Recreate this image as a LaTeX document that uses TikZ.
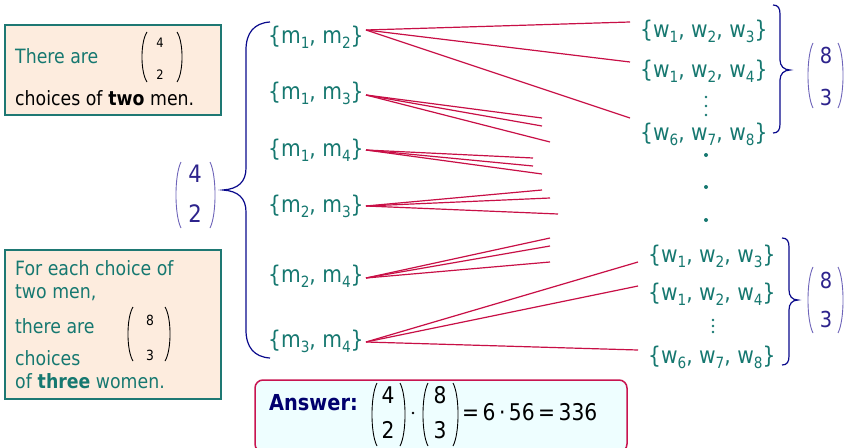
\documentclass[tikz,border=0pt]{standalone}
\usepackage{fontspec}
\setmainfont[FakeStretch=0.88]{DejaVu Sans}
\definecolor{tealc}{RGB}{22,120,112}
\definecolor{navyc}{RGB}{10,10,140}
\definecolor{binc}{RGB}{45,35,140}
\definecolor{parc}{RGB}{110,100,185}
\definecolor{redc}{RGB}{200,15,70}
\definecolor{boxfill}{RGB}{253,236,222}
\definecolor{boxline}{RGB}{30,120,115}
\definecolor{ansfill}{RGB}{238,254,255}
\definecolor{ansline}{RGB}{200,20,80}
\definecolor{ansc}{RGB}{0,0,110}
\newcommand\lowsub[1]{\raisebox{-5.5pt}{\fontsize{15.5}{15.5}\selectfont #1}}
\newcommand\parpair[5]{%
  \pgfmathsetmacro\myPa{#4+0.2*(#5-#4)}%
  \pgfmathsetmacro\myPb{#5-0.2*(#5-#4)}%
  \draw[#1,line width=0.9pt] ({#2+5},#4) .. controls ({#2-1.7},\myPa) and ({#2-1.7},\myPb) .. ({#2+5},#5);
  \draw[#1,line width=0.9pt] ({#3-5},#4) .. controls ({#3+1.7},\myPa) and ({#3+1.7},\myPb) .. ({#3-5},#5);
}
\tikzset{
  men/.style={anchor=base west, inner sep=0, text=tealc, font=\fontsize{23}{26}\selectfont},
  boxtxt/.style={anchor=base west, inner sep=0, text=tealc, font=\fontsize{19.7}{22}\selectfont},
  bigdig/.style={inner sep=0, text=binc, font=\fontsize{24}{24}\selectfont},
  smalldig/.style={inner sep=0, text=black, font=\fontsize{13}{13}\selectfont},
  ansdig/.style={inner sep=0, text=black, font=\fontsize{23}{23}\selectfont},
  redline/.style={draw=redc, line width=1.2pt},
  bracepath/.style={draw=navyc, line width=1.2pt},
  infobox/.style={draw=boxline, fill=boxfill, line width=1.3pt},
  ansbox/.style={draw=ansline, fill=ansfill, line width=1.5pt, rounded corners=8pt}
}
\begin{document}
\begin{tikzpicture}[x=1pt,y=-1pt]
\useasboundingbox (0,0) rectangle (845,447);
\clip (0,0) rectangle (845,447);
\fill[white] (0,0) rectangle (845,447);

% info boxes
\draw[infobox] (5,25) rectangle (221,115);
\node[boxtxt] (t1) at (15,63) {There are};
\node[boxtxt, text=black] (t2) at (15,105) {choices of \textbf{two} men.};
\node[smalldig] (s4) at (160,43) {4};
\node[smalldig] (s2) at (160,75) {2};
\parpair{black}{142}{182}{32}{82}

\draw[infobox] (5,250) rectangle (221,399);
\node[boxtxt] (u1) at (15,275) {For each choice of};
\node[boxtxt] (u2) at (15,298) {two men,};
\node[boxtxt] (u3) at (15,333) {there are};
\node[boxtxt] (u4) at (15,365) {choices};
\node[boxtxt] (u5) at (15,388) {of \textbf{three} women.};
\node[smalldig,font=\fontsize{14}{14}\selectfont] (s8) at (150,320) {8};
\node[smalldig,font=\fontsize{14}{14}\selectfont] (s3) at (150,355) {3};
\parpair{black}{128}{170}{307}{361}

% left binomial and brace
\node[bigdig] (L4) at (195,174) {4};
\node[bigdig] (L2) at (195,214) {2};
\parpair{parc}{176}{215}{162}{228}
\draw[bracepath] (270,22) .. controls (254,23) and (246,33) .. (246,50) -- (246,168)
  .. controls (246,182) and (238,189) .. (223,190)
  .. controls (238,191) and (246,198) .. (246,212) -- (246,330)
  .. controls (246,347) and (254,357) .. (270,358);

% men nodes
\node[men] (m12) at (268,43) {\{m\lowsub{1}, m\lowsub{2}\}};
\node[men] (m13) at (268,99) {\{m\lowsub{1}, m\lowsub{3}\}};
\node[men] (m14) at (268,156) {\{m\lowsub{1}, m\lowsub{4}\}};
\node[men] (m23) at (268,212) {\{m\lowsub{2}, m\lowsub{3}\}};
\node[men] (m24) at (268,282) {\{m\lowsub{2}, m\lowsub{4}\}};
\node[men] (m34) at (268,347) {\{m\lowsub{3}, m\lowsub{4}\}};

% women nodes
\node[men] (w1a) at (640,37) {\{w\lowsub{1}, w\lowsub{2}, w\lowsub{3}\}};
\node[men] (w1b) at (640,77) {\{w\lowsub{1}, w\lowsub{2}, w\lowsub{4}\}};
\node[men] (w1c) at (640,140) {\{w\lowsub{6}, w\lowsub{7}, w\lowsub{8}\}};
\node[men] (w2a) at (648,262) {\{w\lowsub{1}, w\lowsub{2}, w\lowsub{3}\}};
\node[men] (w2b) at (648,300) {\{w\lowsub{1}, w\lowsub{2}, w\lowsub{4}\}};
\node[men] (w2c) at (648,363) {\{w\lowsub{6}, w\lowsub{7}, w\lowsub{8}\}};

% vertical dots
\foreach \yy in {97,106,115} \fill[tealc] (706,\yy) circle (1.4);
\foreach \yy in {320,326,332} \fill[tealc] (713,\yy) circle (1.4);
\foreach \yy in {155,187,220} \fill[tealc] (706,\yy) circle (2);

% right braces and binomials
\draw[bracepath] (773,5) .. controls (778,5) and (780,8) .. (780,14) -- (780,60)
  .. controls (780,66) and (784,70) .. (790,70)
  .. controls (784,70) and (780,74) .. (780,80) -- (780,124)
  .. controls (780,130) and (778,133) .. (773,133);
\node[bigdig,font=\fontsize{22}{22}\selectfont] (R8a) at (826,55) {8};
\node[bigdig,font=\fontsize{22}{22}\selectfont] (R3a) at (826,97) {3};
\parpair{parc}{808}{843}{43}{108}

\draw[bracepath] (782,238) .. controls (787,238) and (789,241) .. (789,247) -- (789,290)
  .. controls (789,296) and (792,300) .. (798,300)
  .. controls (792,300) and (789,304) .. (789,310) -- (789,356)
  .. controls (789,362) and (787,365) .. (782,365);
\node[bigdig,font=\fontsize{22}{22}\selectfont] (R8b) at (826,280) {8};
\node[bigdig,font=\fontsize{22}{22}\selectfont] (R3b) at (826,319) {3};
\parpair{parc}{808}{843}{267}{333}

% connectors
\coordinate (o12) at (366,30);
\coordinate (o13) at (366,95);
\coordinate (o14) at (366,150);
\coordinate (o23) at (366,206);
\coordinate (o24) at (366,278);
\coordinate (o34) at (366,342);
\coordinate (e12a) at (630,22);
\coordinate (e12b) at (630,62);
\coordinate (e12c) at (630,118);
\coordinate (e13a) at (542,118);
\coordinate (e13b) at (542,126);
\coordinate (e13c) at (550,142);
\coordinate (e14a) at (533,158);
\coordinate (e14b) at (533,166);
\coordinate (e14c) at (542,174);
\coordinate (e23a) at (542,190);
\coordinate (e23b) at (550,198);
\coordinate (e23c) at (558,214);
\coordinate (e24a) at (550,238);
\coordinate (e24b) at (550,246);
\coordinate (e24c) at (550,262);
\coordinate (e34a) at (638,262);
\coordinate (e34b) at (638,286);
\coordinate (e34c) at (638,350);
\foreach \o/\e in {12/12a,12/12b,12/12c,13/13a,13/13b,13/13c,14/14a,14/14b,14/14c,23/23a,23/23b,23/23c,24/24a,24/24b,24/24c,34/34a,34/34b,34/34c}
  \draw[redline] (o\o) -- (e\e);

% answer box
\draw[ansbox] (255,380) rectangle (627,452);
\node[anchor=base west, inner sep=0, text=ansc, font=\fontsize{22}{22}\selectfont\bfseries] (ans) at (269,410) {Answer:};
\node[ansdig] (A4) at (388,395) {4};
\node[ansdig] (A2) at (388,430) {2};
\parpair{black}{372}{405}{383}{446}
\fill[black] (413,413) circle (1.3);
\node[ansdig] (A8) at (440,395) {8};
\node[ansdig] (A3) at (440,430) {3};
\parpair{black}{423}{458}{383}{446}
\node[anchor=base west, inner sep=0, text=black, font=\fontsize{23}{23}\selectfont] (res) at (462,420) {=\hspace{3.5pt}6\hspace{3.5pt}·\hspace{3.5pt}56\hspace{3.5pt}=\hspace{3.5pt}336};
\end{tikzpicture}
\end{document}
